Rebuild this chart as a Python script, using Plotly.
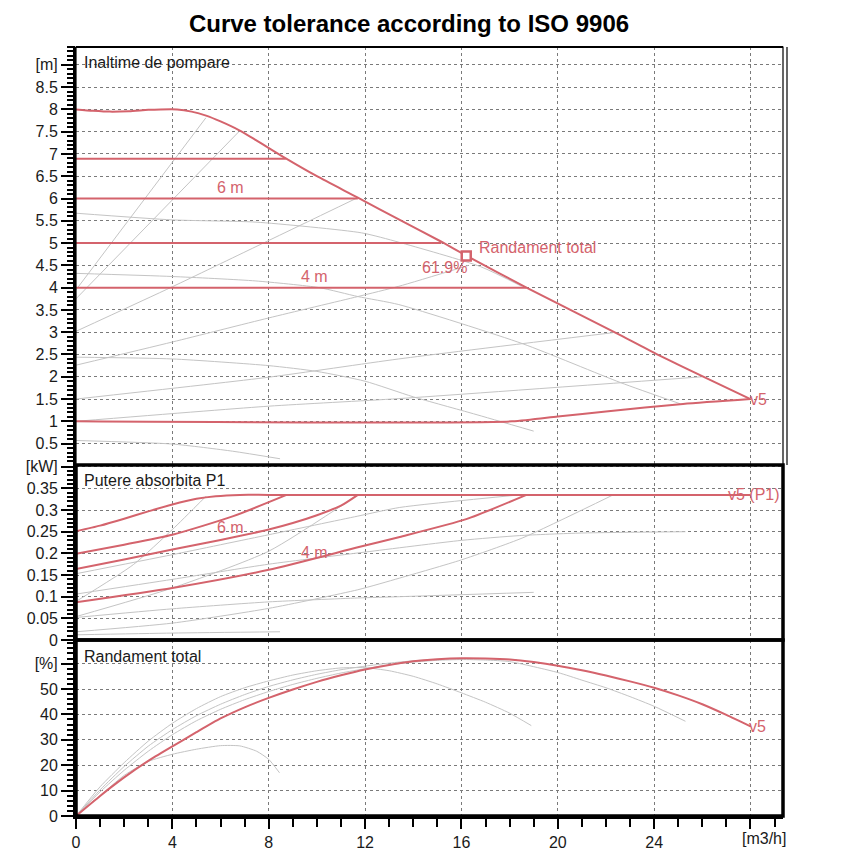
import plotly.graph_objects as go

# ---- data -------------------------------------------------------------
# head curves (top panel), Q in m3/h, H in m
head_max_q = [0, 0.7, 1.4, 2.2, 3.0, 3.5, 4.2, 4.8, 5.4, 6.0, 6.78, 7.47, 8.71, 10.0,
              11.7, 13.44, 15.17, 16.2, 18.7, 22.43, 24.1, 28.0]
head_max_h = [8.0, 7.97, 7.95, 7.96, 7.99, 8.0, 8.0, 7.95, 7.86, 7.73, 7.53, 7.31, 6.9, 6.5,
              6.02, 5.52, 5.03, 4.72, 4.0, 2.98, 2.51, 1.5]
head_min_q = [0, 18.1, 20.0, 22.0, 25.2, 28.0]
head_min_h = [1.0, 1.0, 1.11, 1.22, 1.39, 1.5]
step_h = [6.89, 6.0, 5.0, 4.0]
step_q_end = [8.71, 11.7, 15.17, 18.7]
duty_q = [16.2]
duty_h = [4.71]

head_grey_q = [
    [0, 5.39],
    [0, 6.78],
    [0, 4, 7.47, 11.7],
    [0, 4, 8, 11.7, 13.4, 16.3],
    [0, 8, 13.4, 22.3],
    [0, 8, 13.4, 26.0],
    [0, 4, 7.47, 11.85, 13.4, 16.8, 18.5],
    [0, 4, 7.47, 10.1, 11.7, 13.4, 18.55, 22.6, 25.1],
    [0, 4, 8, 10, 12, 14, 16.5, 19.0],
    [0, 4, 6.5, 8.47],
]
head_grey_h = [
    [3.95, 7.81],
    [3.75, 7.51],
    [3.02, 4.02, 4.92, 6.02],
    [2.26, 2.78, 3.32, 3.80, 4.03, 4.5],
    [1.5, 1.99, 2.40, 2.99],
    [1.0, 1.34, 1.51, 2.0],
    [5.67, 5.52, 5.47, 5.23, 5.02, 4.47, 4.03],
    [4.32, 4.25, 4.15, 4.0, 3.80, 3.62, 2.74, 1.87, 1.39],
    [2.44, 2.40, 2.25, 2.12, 1.9, 1.55, 1.17, 0.78],
    [0.57, 0.49, 0.33, 0.16],
]

# power curves (middle panel), P1 in kW
power_red_q = [
    [0, 1, 2, 3, 4, 5, 5.8, 6.8, 8, 28.0],
    [0, 2, 4, 6.53, 8.74],
    [0, 2, 4, 6, 8, 9, 10, 11, 11.7],
    [0, 4, 8, 11.7, 13.44, 16.2, 18.7],
]
power_red_p = [
    [0.251, 0.264, 0.280, 0.297, 0.313, 0.326, 0.332, 0.335, 0.335, 0.335],
    [0.199, 0.220, 0.243, 0.286, 0.335],
    [0.164, 0.186, 0.209, 0.231, 0.255, 0.270, 0.288, 0.310, 0.335],
    [0.087, 0.120, 0.162, 0.214, 0.238, 0.279, 0.335],
]
power_grey_q = [
    [0, 2.38, 4, 5.4],
    [0, 4, 8, 11.7],
    [0, 4, 8, 11.7, 13.44, 18.4],
    [0, 4, 8, 12, 16, 18.4, 21, 25.3],
    [0, 4, 8, 11.7, 13.44, 19.0],
    [0, 4, 8, 11.7, 13.44, 16, 18.55, 22.3],
    [0, 4, 8.47],
]
power_grey_p = [
    [0.089, 0.174, 0.255, 0.332],
    [0.054, 0.120, 0.205, 0.335],
    [0.153, 0.197, 0.243, 0.286, 0.306, 0.335],
    [0.106, 0.140, 0.175, 0.203, 0.230, 0.241, 0.247, 0.250],
    [0.052, 0.072, 0.088, 0.097, 0.100, 0.110],
    [0.019, 0.039, 0.073, 0.116, 0.143, 0.185, 0.236, 0.335],
    [0.012, 0.016, 0.019],
]

# efficiency curves (bottom panel), %
eff_red_q = [0, 1, 2, 3, 4, 5, 6, 7, 8, 9, 10, 11, 12, 13, 14, 15, 16, 17, 18, 19, 20,
             21, 22, 23, 24, 25, 26, 27, 28]
eff_red_e = [0, 7.9, 15.2, 21.7, 27.4, 33.0, 38.4, 42.8, 46.5, 49.8, 52.8, 55.4, 57.7,
             59.5, 60.9, 61.7, 62.1, 62.0, 61.6, 60.6, 59.2, 57.4, 55.3, 53.0, 50.5,
             47.5, 44.0, 39.8, 35.3]
eff_grey_q = [
    [0, 1, 2, 3, 4, 5, 6, 7, 8, 9, 10, 11, 12, 13, 14, 15, 16, 17, 18, 18.9],
    [0, 1, 2, 3, 4, 5, 6, 7, 8, 9, 10, 11, 12, 13, 14, 15, 16, 17, 18.3],
    [0, 1, 2, 3, 4, 5, 6, 7, 8, 9, 10, 11, 12, 13, 14, 15, 16, 17, 18, 20, 21, 22, 23,
     24, 25.3],
    [0, 1, 2, 3, 4, 5, 6, 6.8, 7.5, 8, 8.45],
]
eff_grey_e = [
    [0, 11.5, 21, 29.5, 36.5, 42.3, 47, 50.5, 53.2, 55.5, 57.2, 58.3, 58.4, 57.2, 55,
     52, 48.5, 44.8, 40.5, 35.6],
    [0, 10.3, 19.5, 27.5, 34, 39.5, 44, 47.8, 51, 53.6, 55.8, 57.6, 59, 60.2, 61.1,
     61.7, 62, 62, 61.6],
    [0, 9.5, 18, 25.5, 32, 37.5, 42, 45.8, 49, 51.8, 54.2, 56.3, 58, 59.5, 60.6, 61.3,
     61.6, 61.4, 60.8, 56.5, 53.5, 50.5, 47, 43.2, 37.3],
    [0, 8, 16, 21.5, 24.3, 26.3, 27.7, 27.6, 25.5, 22.3, 17],
]

x_ticks = [0, 4, 8, 12, 16, 20, 24, 28]
x_labels = ["0", "4", "8", "12", "16", "20", "24", ""]
head_ticks = [0.5, 1, 1.5, 2, 2.5, 3, 3.5, 4, 4.5, 5, 5.5, 6, 6.5, 7, 7.5, 8, 8.5, 9]
head_labels = ["0.5", "1", "1.5", "2", "2.5", "3", "3.5", "4", "4.5", "5", "5.5", "6",
               "6.5", "7", "7.5", "8", "8.5", "[m]"]
power_ticks = [0, 0.05, 0.1, 0.15, 0.2, 0.25, 0.3, 0.35, 0.4]
power_labels = ["0", "0.05", "0.1", "0.15", "0.2", "0.25", "0.3", "0.35", "[kW]"]
eff_ticks = [0, 10, 20, 30, 40, 50, 60]
eff_labels = ["0", "10", "20", "30", "40", "50", "[%]"]

# ---- style -------------------------------------------------------------
RED = "#d4636c"
GREY = "#c4c4c4"
FONT = "Liberation Sans, Arial, sans-serif"
W, H = 844, 844          # page body adds 8px around the figure
ML, MR, MT, MB = 68, 69, 39, 36
plot_w = W - ML - MR
plot_h = H - MT - MB
d_bot = (816 - 640) / plot_h
d_mid = (816 - 465) / plot_h

AX = {"top": ("x3", "y3"), "mid": ("x2", "y2"), "bot": ("x", "y")}

fig = go.Figure()


def add_line(q, v, panel, color, width, smooth=True):
    xa, ya = AX[panel]
    fig.add_trace(go.Scatter(
        x=q, y=v, xaxis=xa, yaxis=ya, mode="lines",
        line=dict(color=color, width=width,
                  shape="spline" if smooth else "linear", smoothing=0.6),
        hoverinfo="skip", showlegend=False))


# grey tolerance lines first so red sits on top
for q, h in zip(head_grey_q, head_grey_h):
    add_line(q, h, "top", GREY, 1)
for q, p in zip(power_grey_q, power_grey_p):
    add_line(q, p, "mid", GREY, 1)
for q, e in zip(eff_grey_q, eff_grey_e):
    add_line(q, e, "bot", GREY, 1)

# red curves
add_line(head_max_q, head_max_h, "top", RED, 2)
add_line(head_min_q, head_min_h, "top", RED, 2)
for h, qe in zip(step_h, step_q_end):
    add_line([0, qe], [h, h], "top", RED, 2, smooth=False)
for q, p in zip(power_red_q, power_red_p):
    add_line(q, p, "mid", RED, 2)
add_line(eff_red_q, eff_red_e, "bot", RED, 2)

fig.add_trace(go.Scatter(
    x=duty_q, y=duty_h, xaxis="x3", yaxis="y3", mode="markers",
    marker=dict(symbol="square", size=9, color="white", line=dict(color=RED, width=2.5)),
    hoverinfo="skip", showlegend=False))

# empty traces so the ruler overlay axes get drawn
for ya in ["y4", "y5", "y6"]:
    xa = {"y4": "x3", "y5": "x2", "y6": "x"}[ya]
    fig.add_trace(go.Scatter(x=[], y=[], xaxis=xa, yaxis=ya, showlegend=False))

# ---- annotations ---------------------------------------------------------
def note(text, x, y, panel, anchor="center", color=RED):
    xa, ya = AX[panel]
    fig.add_annotation(text=text, x=x, y=y, xref=xa, yref=ya, showarrow=False,
                       xanchor=anchor, yanchor="middle",
                       font=dict(family=FONT, size=16, color=color))


note("6 m", 6.4, 6.24, "top")
note("4 m", 9.9, 4.25, "top")
note("61.9%", 15.3, 4.45, "top")
note("Randament total", 16.65, 4.9, "top", anchor="left")
note("v5", 27.9, 1.5, "top", anchor="left")
note("6 m", 6.43, 0.26, "mid")
note("4 m", 9.92, 0.203, "mid")
note("v5 (P1)", 27.0, 0.335, "mid", anchor="left")
note("v5", 27.85, 35.3, "bot", anchor="left")

for text, panel, yd in [("Inaltime de pompare", "top", 1 - 16 / 418),
                        ("Putere absorbita P1", "mid", 1 - 15.5 / 175),
                        ("Randament total", "bot", 1 - 16.5 / 176)]:
    xa, ya = AX[panel]
    fig.add_annotation(text=text, x=6 / plot_w, y=yd, xref=xa + " domain",
                       yref=ya + " domain", showarrow=False, xanchor="left",
                       yanchor="middle", font=dict(family=FONT, size=16, color="#1a1a1a"))

# flow unit sits a little right of the last tick
fig.add_annotation(text="[m3/h]", x=28.55, y=-22 / plot_h, xref="x", yref="paper",
                   showarrow=False, xanchor="center", yanchor="middle",
                   font=dict(family=FONT, size=16, color="#1a1a1a"))

# ---- frames ----------------------------------------------------------------
shapes = [
    dict(type="rect", xref="paper", yref="paper", x0=0, x1=1, y0=d_mid, y1=1,
         line=dict(color="black", width=1.2)),
    dict(type="line", xref="paper", yref="paper", x0=1 + 4 / plot_w, x1=1 + 4 / plot_w,
         y0=d_mid, y1=1, line=dict(color="black", width=1.2)),
    dict(type="line", xref="paper", yref="paper", x0=0, x1=1,
         y0=1, y1=1, line=dict(color="black", width=2)),
    dict(type="rect", xref="paper", yref="paper", x0=0, x1=1, y0=d_bot, y1=d_mid,
         line=dict(color="black", width=3.5)),
    dict(type="rect", xref="paper", yref="paper", x0=0, x1=1, y0=0, y1=d_bot,
         line=dict(color="black", width=3.5)),
]

# ---- axes -----------------------------------------------------------------
grid = dict(showgrid=True, gridcolor="#7a7a7a", gridwidth=1, griddash="3px,3px",
            zeroline=False, automargin=False)
tickfont = dict(family=FONT, size=16, color="#1a1a1a")


def yaxis(domain, rng, vals, labels, anchor):
    return dict(domain=domain, range=rng, anchor=anchor, tickmode="array",
                tickvals=vals, ticktext=labels, ticks="outside", ticklen=12,
                tickwidth=2, tickcolor="black", tickfont=tickfont,
                showline=True, linewidth=3, linecolor="black", **grid)


def ruler(over, anchor, rng, step):
    return dict(overlaying=over, anchor=anchor, side="left", range=rng,
                tickmode="linear", tick0=0, dtick=step, ticks="outside", ticklen=8,
                tickwidth=2, tickcolor="black", showticklabels=False,
                showgrid=False, zeroline=False, showline=False, automargin=False)


xcommon = dict(range=[0, 29.35], tickmode="array", tickvals=x_ticks, **grid)
head_range = [0.02, 9.4]
power_range = [0, 0.404]
eff_range = [0, 69.3]

fig.update_layout(
    width=W, height=H,
    margin=dict(l=ML, r=MR, t=MT, b=MB),
    paper_bgcolor="white", plot_bgcolor="white",
    title=dict(text="<b>Curve tolerance according to ISO 9906</b>",
               x=(409 - 8) / W, xanchor="center", y=1 - (24 - 8) / H, yanchor="middle",
               font=dict(family=FONT, size=24, color="black")),
    xaxis=dict(domain=[0, 1], anchor="y", ticktext=x_labels, ticks="outside",
               ticklen=10, tickwidth=2, tickcolor="black", tickfont=tickfont,
               showline=True, linewidth=3, linecolor="black",
               minor=dict(dtick=1, tick0=0, ticks="outside", ticklen=8, tickwidth=2,
                          tickcolor="black", showgrid=False),
               **xcommon),
    xaxis2=dict(domain=[0, 1], anchor="y2", matches="x", showticklabels=False,
                ticks="", **xcommon),
    xaxis3=dict(domain=[0, 1], anchor="y3", matches="x", showticklabels=False,
                ticks="", **xcommon),
    yaxis=yaxis([0, d_bot], eff_range, eff_ticks, eff_labels, "x"),
    yaxis2=yaxis([d_bot, d_mid], power_range, power_ticks, power_labels, "x2"),
    yaxis3=yaxis([d_mid, 1], head_range, head_ticks, head_labels, "x3"),
    yaxis4=ruler("y3", "x3", head_range, 0.1),
    yaxis5=ruler("y2", "x2", power_range, 0.01),
    yaxis6=ruler("y", "x", eff_range, 2),
    shapes=shapes,
)

fig.write_html("out.html")
